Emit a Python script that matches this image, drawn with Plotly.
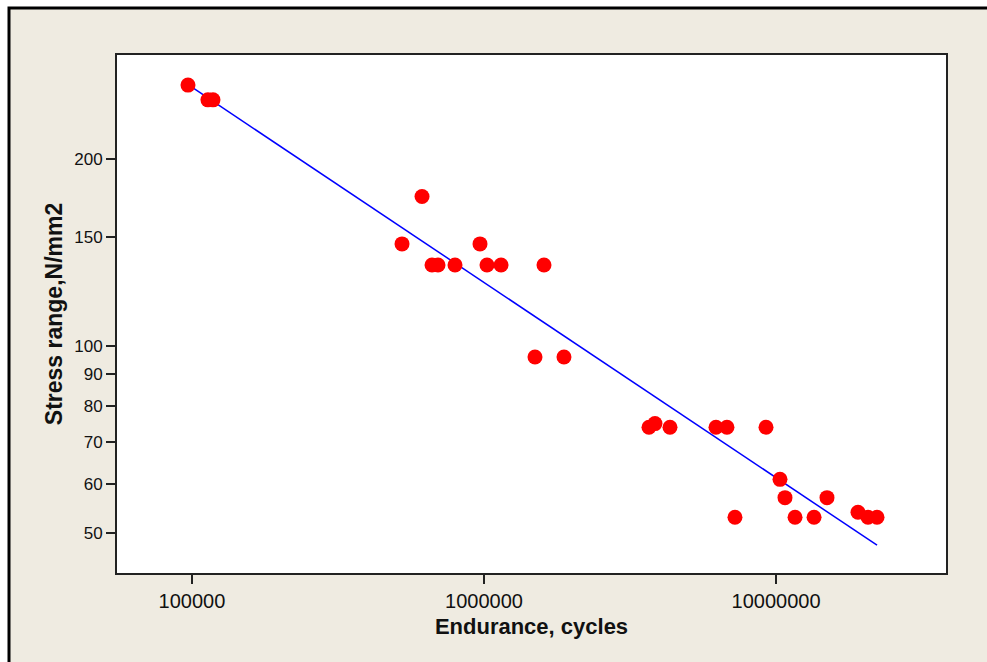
import plotly.graph_objects as go

# Data (Endurance cycles vs stress range)
endurance = [96900, 113400, 118000, 524000, 613500, 663800, 695800, 795700,
             969000, 1024000, 1144000, 1495000, 1605000, 1879000,
             3673000, 3851000, 4335000, 6230000, 6792000, 7236000, 9243000,
             10320000, 10735000, 11620000, 13500000, 14950000,
             19090000, 20660000, 22180000]
stress = [263, 249, 249, 146, 174, 135, 135, 135,
          146, 135, 135, 96, 135, 96,
          74, 75, 74, 74, 74, 53, 74,
          61, 57, 53, 53, 57,
          54, 53, 53]

fit_x = [100800, 22180000]
fit_y = [260.2, 47.8]

x_tickvals = [100000, 1000000, 10000000]
x_ticktext = ["100000", "1000000", "10000000"]
y_tickvals = [50, 60, 70, 80, 90, 100, 150, 200]

W, H = 987, 662
L, R, T, B = 117, 946, 55, 573
pw, ph = R - L, B - T

def px(xp):
    return (xp - L) / pw

def py(yp):
    return (B - yp) / ph

fig = go.Figure()
fig.add_trace(go.Scatter(x=fit_x, y=fit_y, mode="lines",
                         line=dict(color="#0000ff", width=1.5),
                         hoverinfo="skip", showlegend=False))
fig.add_trace(go.Scatter(x=endurance, y=stress, mode="markers",
                         marker=dict(color="#ff0000", size=15, line=dict(width=0)),
                         showlegend=False))

beige = "#efebe1"
shapes = [
    dict(type="rect", xref="paper", yref="paper", layer="below",
         x0=px(9), x1=px(1100), y0=py(800), y1=py(8),
         fillcolor=beige, line=dict(color="black", width=3)),
    dict(type="rect", xref="paper", yref="paper", layer="below",
         x0=0, x1=1, y0=0, y1=1,
         fillcolor="white", line=dict(width=0)),
]

fig.update_layout(
    width=W, height=H,
    margin=dict(l=L, r=W - R, t=T, b=H - B, pad=0),
    paper_bgcolor="white",
    plot_bgcolor="white",
    shapes=shapes,
    font=dict(family="Liberation Sans, Arial, sans-serif", color="#111111"),
    showlegend=False,
)
fig.update_xaxes(
    type="log", range=[4.7432, 7.5822],
    tickvals=x_tickvals, ticktext=x_ticktext,
    ticks="outside", ticklen=9, tickwidth=1.5, tickcolor="#222222",
    tickfont=dict(size=20),
    showline=True, linecolor="#222222", linewidth=2, mirror=True,
    showgrid=False, zeroline=False,
    title=dict(text="<b>Endurance, cycles</b>", font=dict(size=22), standoff=8),
)
fig.update_yaxes(
    type="log", range=[1.6346, 2.4684],
    tickvals=y_tickvals, ticktext=[str(v) for v in y_tickvals],
    ticks="outside", ticklen=9, tickwidth=1.5, tickcolor="#222222",
    tickfont=dict(size=17),
    showline=True, linecolor="#222222", linewidth=2, mirror=True,
    showgrid=False, zeroline=False,
    title=dict(text="<b>Stress range,N/mm2</b>", font=dict(size=23), standoff=5),
)

fig.write_html("out.html")
